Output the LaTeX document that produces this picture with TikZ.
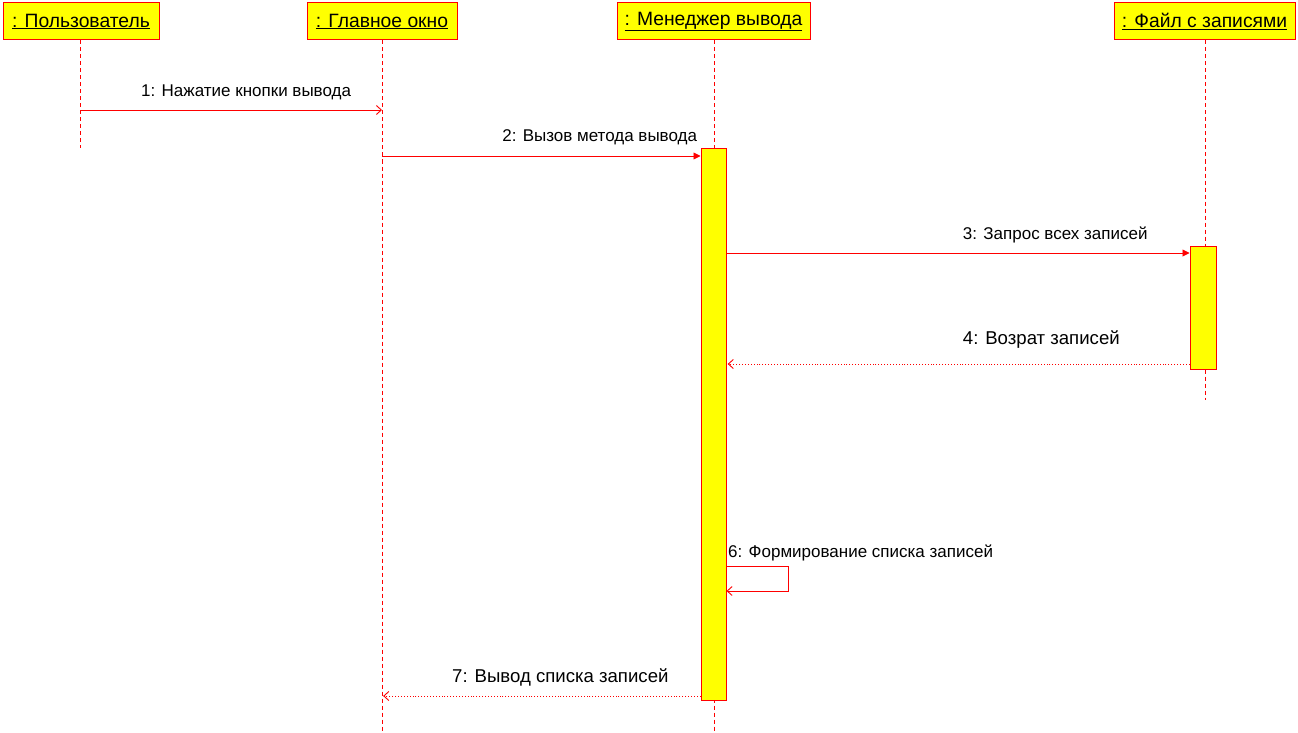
\documentclass[tikz,border=0pt]{standalone}
\usepackage{fontspec}
\setmainfont{Liberation Sans}
\usetikzlibrary{arrows.meta,positioning}
\definecolor{UmlRed}{RGB}{255,0,0}
\definecolor{UmlYellow}{RGB}{255,255,0}

\begin{document}
\begin{tikzpicture}[x=1pt, y=-1pt,
		objbox/.style={draw=UmlRed, fill=UmlYellow, line width=1pt, minimum height=37pt, inner sep=0pt, font=\fontsize{19.3}{22}\selectfont},
		actbar/.style={draw=UmlRed, fill=UmlYellow, line width=1pt, minimum width=25pt, inner sep=0pt},
		lifeline/.style={draw=UmlRed, dashed, dash pattern=on 4pt off 3pt, line width=1pt},
		callmsg/.style={draw=UmlRed, line width=0.9pt, -{Triangle[length=7pt,width=7pt]}},
		sendmsg/.style={draw=UmlRed, line width=0.9pt, -{Straight Barb[length=5pt,width=9pt]}},
		retmsg/.style={draw=UmlRed, line width=0.9pt, dotted, -{Straight Barb[length=5pt,width=9pt,line width=0.9pt,sep]}},
		lbl/.style={font=\fontsize{17}{19}\selectfont, inner sep=1pt}]
		\useasboundingbox (0,0) rectangle (1298,733);
		
		% объекты
		\node[objbox, minimum width=156pt] (user) at (81,21.5) {\underline{: Пользователь}};
		\node[objbox, minimum width=150pt] (win) at (382,21.5) {\underline{: Главное окно}};
		\node[objbox, minimum width=193pt] (mgr) at (713.5,21.5) {\underline{: Менеджер вывода}};
		\node[objbox, minimum width=181pt] (file) at (1204.5,21.5) {\underline{: Файл с записями}};
		
		% линии жизни
		\coordinate (userend) at (80,148);
		\coordinate (winend) at (382,733);
		\coordinate (mgrend) at (714,733);
		\coordinate (fileend) at (1205,400);
		\draw[lifeline] (user.south -| userend) -- (userend);
		\draw[lifeline] (win.south) -- (winend);
		\draw[lifeline] (mgr.south -| mgrend) -- (mgrend);
		\draw[lifeline] (file.south -| fileend) -- (fileend);
		
		% активации
		\node[actbar, minimum height=551pt] (mgrbar) at (713.5,424.5) {};
		\node[actbar, minimum height=123pt, minimum width=26pt] (filebar) at (1203,307.5) {};
		
		% сообщения
		\draw[sendmsg] (userend |- 0,110) -- (win |- 0,110)
			node[lbl, pos=.55, yshift=18pt] {1: Нажатие кнопки вывода};
		\draw[callmsg] (win |- 0,156) -- (mgrbar.west |- 0,156)
			node[lbl, pos=1, anchor=east, yshift=19pt, xshift=-2pt] {2: Вызов метода вывода};
		\draw[callmsg] (mgrbar.east |- 0,253) -- (filebar.west |- 0,253)
			node[lbl, pos=.71, yshift=18pt] {3: Запрос всех записей};
		\draw[retmsg] (filebar.west |- 0,364) -- (mgrbar.east |- 0,364)
			node[lbl, pos=.32, yshift=24pt, font=\fontsize{18.6}{20}\selectfont] {4: Возрат записей};
		
		% вызов самого себя
		\coordinate (selfa) at (788,566);
		\coordinate (selfb) at (788,591);
		\draw[sendmsg] (mgrbar.east |- selfa) -- (selfa) -- (selfb) -- (mgrbar.east |- selfb);
		\node[lbl, anchor=west] (selflbl) at (727,553) {6: Формирование списка записей};
		
		\draw[retmsg] (mgrbar.west |- 0,696) -- (win |- 0,696)
			node[lbl, pos=.44, yshift=19pt, font=\fontsize{18.6}{20}\selectfont] {7: Вывод списка записей};
	\end{tikzpicture}
\end{document}
